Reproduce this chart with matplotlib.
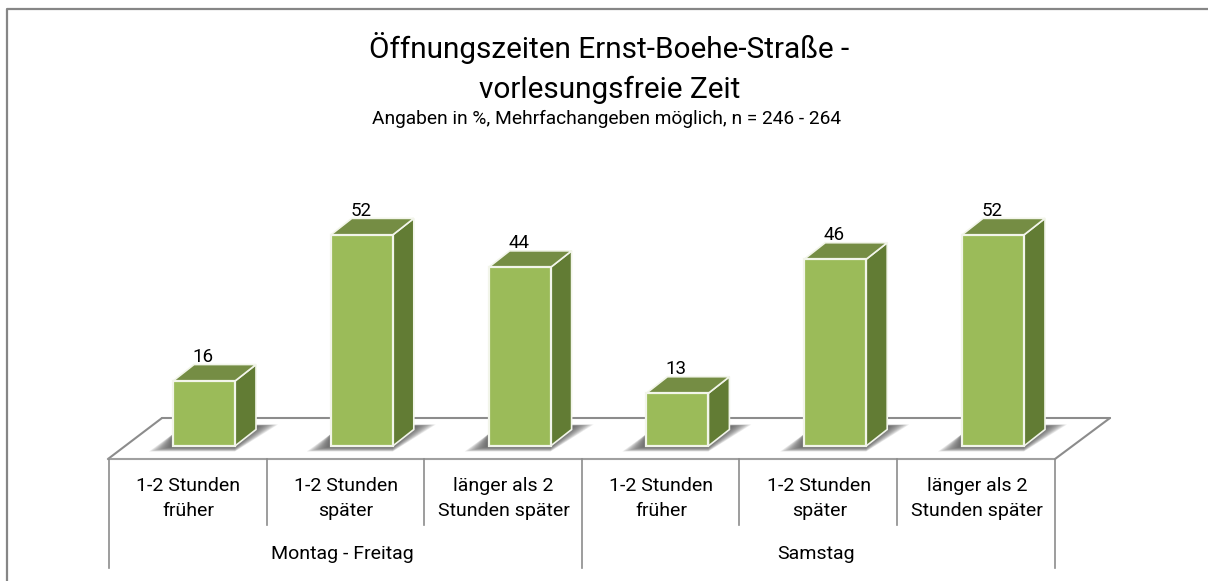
import matplotlib
matplotlib.use("Agg")
import matplotlib.pyplot as plt
from matplotlib.patches import Polygon

plt.rcParams['font.family'] = ['Roboto', 'DejaVu Sans']

#Werte
werte = [16, 52, 44, 13, 46, 52]
kategorien = ["1-2 Stunden\nfrüher", "1-2 Stunden\nspäter", "länger als 2\nStunden später",
              "1-2 Stunden\nfrüher", "1-2 Stunden\nspäter", "länger als 2\nStunden später"]
gruppen = ["Montag - Freitag", "Samstag"]
titel = "Öffnungszeiten Ernst-Boehe-Straße -\nvorlesungsfreie Zeit"
untertitel = "Angaben in %, Mehrfachangeben möglich, n = 246 - 264"

B, H = 1208, 581
#Pixel pro Kategorie / pro Prozentpunkt
px_x = 157.8
px_y = 4.06
x0 = 204
y0 = 446

FRONT = "#9bbb59"
SEITE = "#627c34"
OBEN = "#758d44"
LINIE = "#8c8c8c"

fig = plt.figure(figsize=(B / 100, H / 100), dpi=100)
ax = fig.add_axes([0, 0, 1, 1])
ax.set_xlim(-x0 / px_x, (B - x0) / px_x)
ax.set_ylim(-(H - y0) / px_y, y0 / px_y)
ax.axis("off")


#Umrechnung von Bildpixeln in Datenkoordinaten (nur für Dekoration)
def dx(p):
    return p / px_x


def dy(p):
    return p / px_y


def px(x, y):
    return (x - x0) / px_x, (y0 - y) / px_y


#Rahmen, nur oben und links
ax.plot(*zip(px(7, 581), px(7, 9), px(1208, 9)), color="#868686", lw=1.6, zorder=1)

#Boden
for a, b in [((108, 459), (162, 418)), ((1055, 459), (1110, 418)),
             ((162, 418), (1110, 418))]:
    ax.plot(*zip(px(*a), px(*b)), color=LINIE, lw=1.5, zorder=1, solid_capstyle="round")
ax.plot(*zip(px(108, 459), px(1055, 459)), color="#a0a0a0", lw=1.5, zorder=1)

breite = 62 / px_x
tiefe_x = dx(21)
tiefe_y = dy(16.5)

#Schatten als gestapelte Polygone, außen hell, innen dunkel
for i, w in enumerate(werte):
    l = i - breite / 2
    r = i + breite / 2
    for k in range(14):
        e = 1 - k / 13
        unten = -dy(1 + 4.5 * e)
        ecke = dy(20 + 1.5 * e)
        ax.add_patch(Polygon([(l - dx(2 + 22 * e), unten), (r, unten),
                              (r + tiefe_x + dx(2 + 20 * e), ecke),
                              (r + tiefe_x - dx(5), ecke),
                              (l, dy(12))],
                             fc="#4a4a4a", ec="none", alpha=0.10, zorder=2))

#Balken
bars = ax.bar(range(len(werte)), werte, width=breite, color=FRONT, edgecolor="#f2f5ea", linewidth=1.6, zorder=4)
for i, w in enumerate(werte):
    l = i - breite / 2
    r = i + breite / 2
    ax.add_patch(Polygon([(r, 0), (r + tiefe_x, tiefe_y), (r + tiefe_x, w + tiefe_y), (r, w)],
                         fc=SEITE, ec="#f2f5ea", lw=1.2, zorder=3))
    ax.add_patch(Polygon([(l, w), (l + tiefe_x, w + tiefe_y), (r + tiefe_x, w + tiefe_y), (r, w)],
                         fc=OBEN, ec="#f2f5ea", lw=1.2, zorder=3))
    ax.text(i - dx(1), w + dy(15), str(w), ha="center", va="bottom", fontsize=13.5, color="black", zorder=5)

#Achse unten
n = len(werte)
for i in range(n + 1):
    xp = 109 + i * 157.6
    unten = 568 if i % 3 == 0 else 525
    ax.plot(*zip(px(xp, 459), px(xp, unten)), color=LINIE, lw=1.2, zorder=1)
for i, t in enumerate(kategorien):
    ax.text(i - dx(16), -dy(498.5 - y0), t, ha="center", va="center", fontsize=14, linespacing=1.53)
for j, g in enumerate(gruppen):
    ax.text((3 * j + 1) - dx(19), -dy(554 - y0), g, ha="center", va="center", fontsize=14)

#Titel
xm, _ = px(609.5, 0)
ax.text(xm, px(0, 68)[1], titel, ha="center", va="center", fontsize=21.4, linespacing=1.55)
ax.text(px(606, 0)[0], px(0, 119)[1], untertitel, ha="center", va="center", fontsize=13.8)

fig.savefig("out.png", dpi=100)
